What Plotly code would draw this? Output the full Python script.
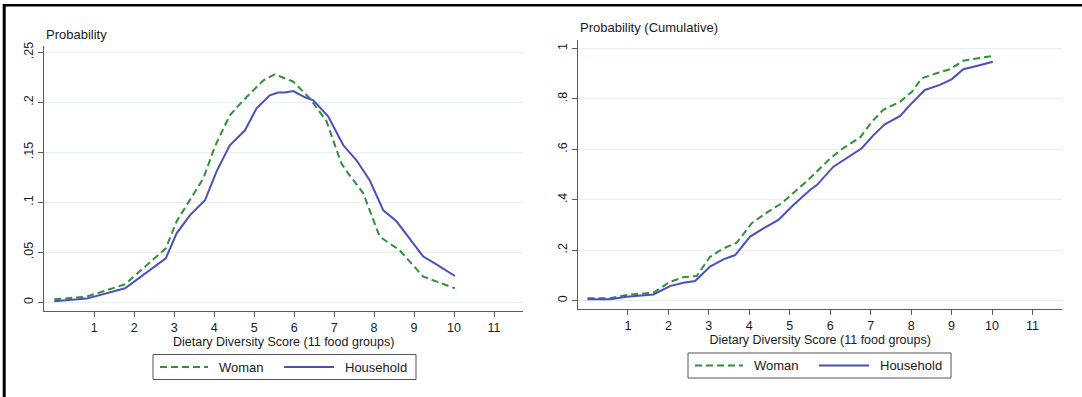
import plotly.graph_objects as go

W, H = 1082, 397

# ---------------- data ----------------
dds_woman_pdf = [0.0, 0.81, 1.77, 2.79, 3.06, 3.73, 4.02, 4.39, 4.73, 5.23, 5.52, 5.98,
                 6.39, 6.81, 7.18, 7.35, 7.73, 8.14, 8.64, 9.23, 10.02]
woman_pdf = [0.003, 0.0057, 0.018, 0.054, 0.081, 0.124, 0.156, 0.187, 0.202, 0.222, 0.228,
             0.2206, 0.204, 0.181, 0.139, 0.129, 0.109, 0.0657, 0.052, 0.0257, 0.014]

dds_house_pdf = [0.0, 0.81, 1.77, 2.27, 2.79, 3.06, 3.39, 3.77, 4.06, 4.39, 4.77, 5.06, 5.39,
                 5.6, 5.77, 5.98, 6.27, 6.48, 6.85, 7.23, 7.56, 7.89, 8.23, 8.56, 8.89,
                 9.23, 9.56, 10.02]
house_pdf = [0.001, 0.0037, 0.014, 0.029, 0.044, 0.069, 0.087, 0.102, 0.131, 0.157, 0.172,
             0.194, 0.207, 0.2097, 0.2097, 0.2113, 0.205, 0.202, 0.186, 0.157, 0.142, 0.122,
             0.092, 0.081, 0.064, 0.0457, 0.038, 0.0263]

dds_woman_cdf = [0.0, 0.56, 0.97, 1.63, 2.04, 2.37, 2.7, 3.03, 3.36, 3.69, 4.06, 4.43, 4.8,
                 5.17, 5.5, 6.0, 6.32, 6.74, 7.03, 7.31, 7.73, 8.02, 8.26, 8.63, 8.96,
                 9.29, 9.62, 10.02]
woman_cdf = [0.0095, 0.0095, 0.0226, 0.032, 0.075, 0.093, 0.098, 0.174, 0.207, 0.23, 0.307,
             0.349, 0.386, 0.439, 0.485, 0.564, 0.604, 0.647, 0.709, 0.756, 0.789, 0.828,
             0.881, 0.901, 0.917, 0.951, 0.960, 0.970]

dds_house_cdf = [0.0, 0.56, 0.97, 1.63, 2.04, 2.37, 2.66, 3.03, 3.36, 3.65, 4.02, 4.35, 4.72,
                 5.09, 5.5, 5.67, 6.08, 6.41, 6.78, 7.07, 7.35, 7.73, 7.97, 8.34, 8.71,
                 9.0, 9.29, 9.62, 10.02]
house_cdf = [0.0055, 0.0055, 0.016, 0.025, 0.058, 0.071, 0.078, 0.135, 0.164, 0.181, 0.254,
             0.287, 0.32, 0.379, 0.439, 0.458, 0.531, 0.564, 0.604, 0.656, 0.699, 0.732,
             0.775, 0.835, 0.855, 0.877, 0.917, 0.93, 0.947]

x_ticks = list(range(1, 12))
pdf_ticks = [0, 0.05, 0.1, 0.15, 0.2, 0.25]
pdf_ticktext = ["0", ".05", ".1", ".15", ".2", ".25"]
cdf_ticks = [0, 0.2, 0.4, 0.6, 0.8, 1.0]
cdf_ticktext = ["0", ".2", ".4", ".6", ".8", "1"]

series_names = ["Woman", "Household"]
GREEN = "#2f8f3a"
BLUE = "#4b4fc0"
DASH = "7px,4px"
FONT = "Liberation Sans, Arial, sans-serif"
TXT = "#1a1a1a"
AXIS = "#5a5a5a"
GRID = "#e6eff1"
LW = 2.0


def px_x(p):
    return p / W


def px_y(p):
    return 1 - p / H


fig = go.Figure()

# left panel
fig.add_trace(go.Scatter(x=dds_woman_pdf, y=woman_pdf, mode="lines", name=series_names[0],
                         line=dict(color=GREEN, width=LW, dash=DASH), xaxis="x", yaxis="y"))
fig.add_trace(go.Scatter(x=dds_house_pdf, y=house_pdf, mode="lines", name=series_names[1],
                         line=dict(color=BLUE, width=LW), xaxis="x", yaxis="y"))
# right panel
fig.add_trace(go.Scatter(x=dds_woman_cdf, y=woman_cdf, mode="lines", name=series_names[0],
                         line=dict(color=GREEN, width=LW, dash=DASH), xaxis="x2", yaxis="y2"))
fig.add_trace(go.Scatter(x=dds_house_cdf, y=house_cdf, mode="lines", name=series_names[1],
                         line=dict(color=BLUE, width=LW), xaxis="x2", yaxis="y2"))

common_x = dict(tickmode="array", tickvals=x_ticks, ticks="outside", ticklen=5,
                tickcolor=AXIS, showline=True, linecolor=AXIS, linewidth=1.3,
                showgrid=False, zeroline=False, automargin=False,
                tickfont=dict(family=FONT, size=12.5, color=TXT),
                title=dict(text="Dietary Diversity Score (11 food groups)",
                           font=dict(family=FONT, size=12.5, color=TXT), standoff=1))
common_y = dict(tickmode="array", ticks="outside", ticklen=5, tickcolor=AXIS,
                showline=True, linecolor=AXIS, linewidth=1.3, automargin=False,
                showgrid=True, gridcolor=GRID, gridwidth=1, zeroline=False,
                tickangle=-90, tickfont=dict(family=FONT, size=12.5, color=TXT))

# pixel geometry of the two plot areas
L1, R1, T1, B1 = 44, 523.3, 46, 311
L2, R2, T2, B2 = 578.3, 1062, 40, 309.3

fig.update_layout(
    width=W, height=H,
    margin=dict(l=0, r=0, t=0, b=0, pad=0, autoexpand=False),
    paper_bgcolor="white", plot_bgcolor="white",
    showlegend=False,
    xaxis=dict(domain=[px_x(L1), px_x(R1)], range=[-0.2575, 11.7325], anchor="y", **common_x),
    yaxis=dict(domain=[px_y(B1), px_y(T1)], range=[-0.0087, 0.2563], anchor="x",
               tickvals=pdf_ticks, ticktext=pdf_ticktext, **common_y),
    xaxis2=dict(domain=[px_x(L2), px_x(R2)], range=[-0.227, 11.73], anchor="y2", **common_x),
    yaxis2=dict(domain=[px_y(B2), px_y(T2)], range=[-0.034, 1.033], anchor="x2",
                tickvals=cdf_ticks, ticktext=cdf_ticktext, **common_y),
)

# panel titles
fig.add_annotation(text="Probability", xref="paper", yref="paper",
                   x=px_x(44), y=px_y(35), xanchor="left", yanchor="middle",
                   showarrow=False, font=dict(family=FONT, size=13, color=TXT))
fig.add_annotation(text="Probability (Cumulative)", xref="paper", yref="paper",
                   x=px_x(578), y=px_y(28), xanchor="left", yanchor="middle",
                   showarrow=False, font=dict(family=FONT, size=13, color=TXT))

# legends (one boxed key under each panel)
styles = [dict(color=GREEN, width=LW, dash=DASH), dict(color=BLUE, width=LW)]
for dx, dy in [(0, 0), (535, -1.5)]:
    x0, x1, y0, y1 = 153 + dx, 416 + dx, 354.5 + dy, 379.5 + dy
    fig.add_shape(type="rect", xref="paper", yref="paper",
                  x0=px_x(x0), x1=px_x(x1), y0=px_y(y1), y1=px_y(y0),
                  line=dict(color="#555", width=1), fillcolor="white")
    ym = (y0 + y1) / 2
    for i, (lx0, lx1, tx) in enumerate([(160, 208, 217), (284, 334, 343)]):
        fig.add_shape(type="line", xref="paper", yref="paper",
                      x0=px_x(lx0 + dx), x1=px_x(lx1 + dx), y0=px_y(ym), y1=px_y(ym),
                      line=styles[i])
        fig.add_annotation(text=series_names[i], xref="paper", yref="paper",
                           x=px_x(tx + dx), y=px_y(ym), xanchor="left", yanchor="middle",
                           showarrow=False, font=dict(family=FONT, size=13, color=TXT))

# outer frame (top and left edges visible in the reference)
fig.add_shape(type="line", xref="paper", yref="paper", x0=px_x(3), x1=1.0,
              y0=px_y(5.3), y1=px_y(5.3), line=dict(color="black", width=2.6))
fig.add_shape(type="line", xref="paper", yref="paper", x0=px_x(4.2), x1=px_x(4.2),
              y0=px_y(4), y1=0, line=dict(color="black", width=3))

fig.write_html("out.html",
               config={"displayModeBar": False},
               post_script="document.body.style.margin='0';"
                           "document.body.style.overflow='hidden';")
